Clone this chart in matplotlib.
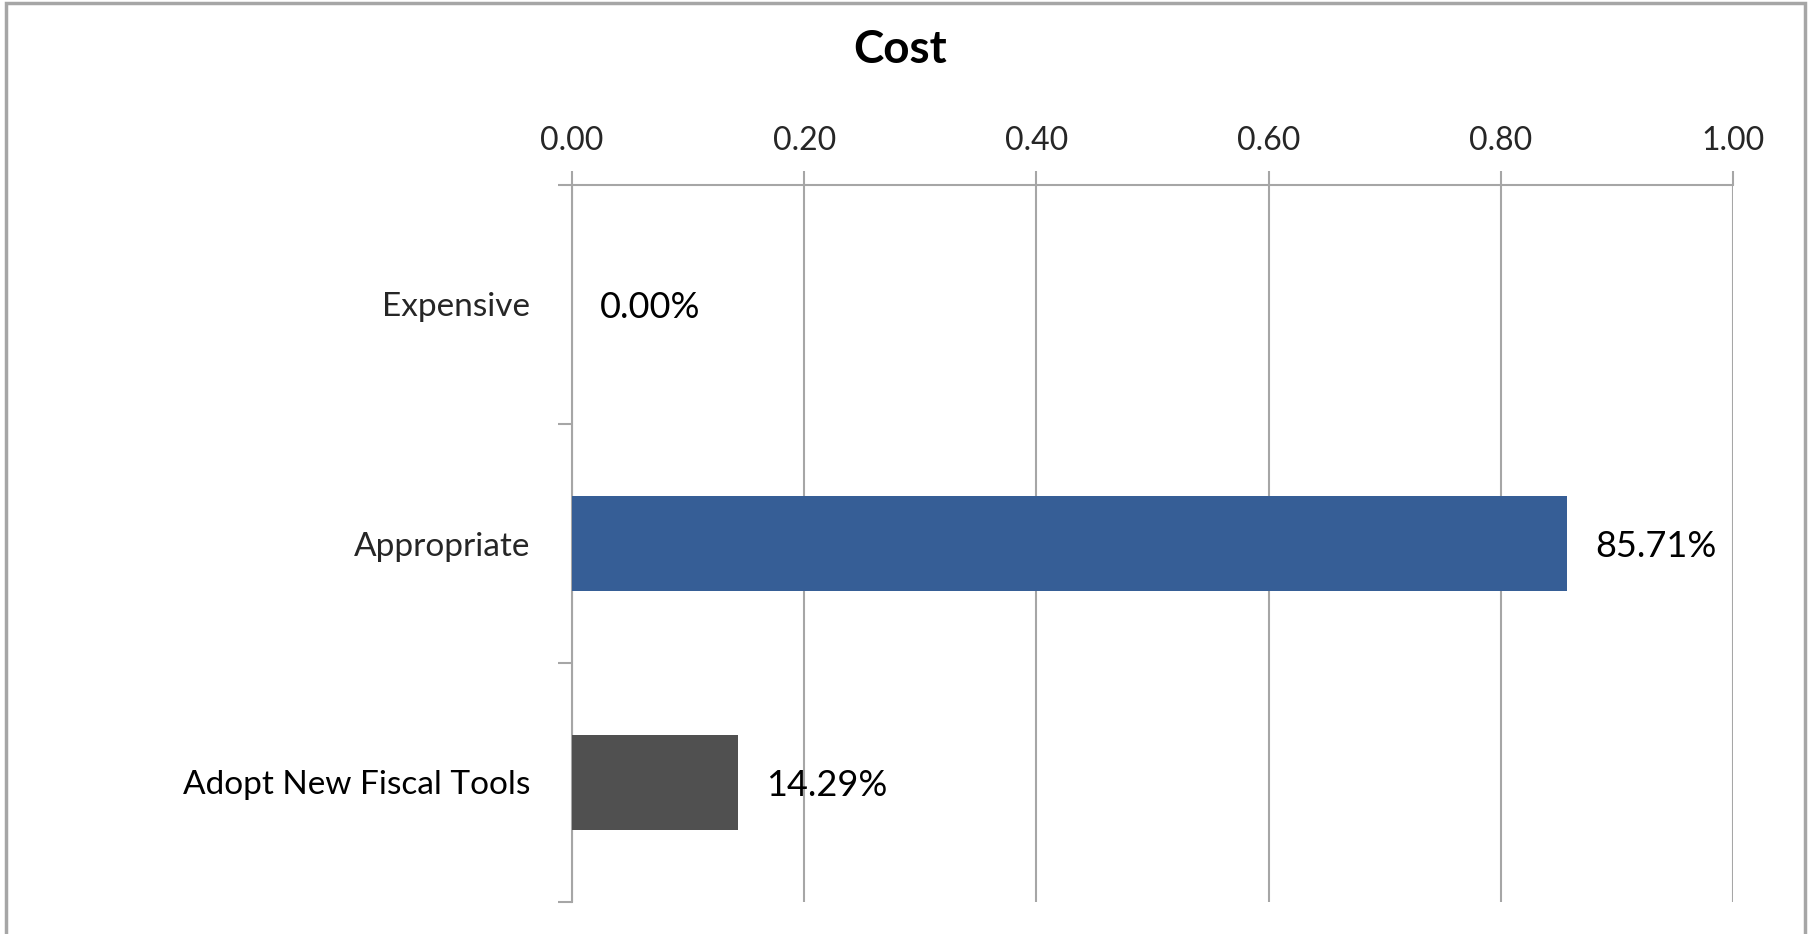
import matplotlib.pyplot as plt
from matplotlib.patches import Rectangle
import numpy as np

# data
categories = ['Expensive', 'Appropriate', 'Adopt New Fiscal Tools']
values = [0.0, 0.8571, 0.1429]
bar_colors = ['#365E96', '#365E96', '#505050']
label_colors = ['#262626', '#262626', '#000000']
xticks = [0.0, 0.2, 0.4, 0.6, 0.8, 1.0]

plt.rcParams['font.family'] = ['Lato', 'DejaVu Sans']

W, H = 1814, 934
fig = plt.figure(figsize=[W / 100, H / 100], dpi=100)
ax = fig.add_axes([572 / W, 1 - 902 / H, (1733 - 572) / W, (902 - 185) / H])

# outer chart frame
fig.patches.append(Rectangle((6 / W, -0.05), (1805 - 6) / W, 1.05 - 3 / H,
                             transform=fig.transFigure, fill=False,
                             edgecolor='#a6a6a6', lw=2.5))

y = np.arange(len(categories))
ax.barh(y, values, height=0.4, color=bar_colors, zorder=3)

for yi, v in zip(y, values):
    ax.annotate('%.2f%%' % (v * 100), (v, yi), xytext=(20, -2),
                textcoords='offset points', va='center', ha='left',
                fontsize=26, color='#000000')

ax.set_ylim(2.5, -0.5)
ax.set_xlim(0, 1)
ax.set_yticks(y)
ax.set_yticklabels(categories, fontsize=24)
for lab, c in zip(ax.get_yticklabels(), label_colors):
    lab.set_color(c)
ax.set_yticks([-0.5, 0.5, 1.5, 2.5], minor=True)
ax.tick_params(axis='y', which='major', length=0, pad=30)
ax.tick_params(axis='y', which='minor', length=10, width=1.5, color='#a6a6a6')

ax.xaxis.tick_top()
ax.set_xticks(xticks)
ax.set_xticklabels(['%.2f' % t for t in xticks], fontsize=23, color='#262626')
ax.tick_params(axis='x', length=10, width=1.5, color='#a6a6a6', pad=11)
ax.grid(axis='x', color='#a6a6a6', lw=1.5, zorder=0)

for s in ['right', 'bottom']:
    ax.spines[s].set_visible(False)
for s in ['top', 'left']:
    ax.spines[s].set_color('#a6a6a6')
    ax.spines[s].set_linewidth(1.5)

fig.text(900 / W, 1 - 50 / H, 'Cost', fontsize=33, fontweight='bold',
         ha='center', va='center')

fig.savefig('out.png', dpi=100)
